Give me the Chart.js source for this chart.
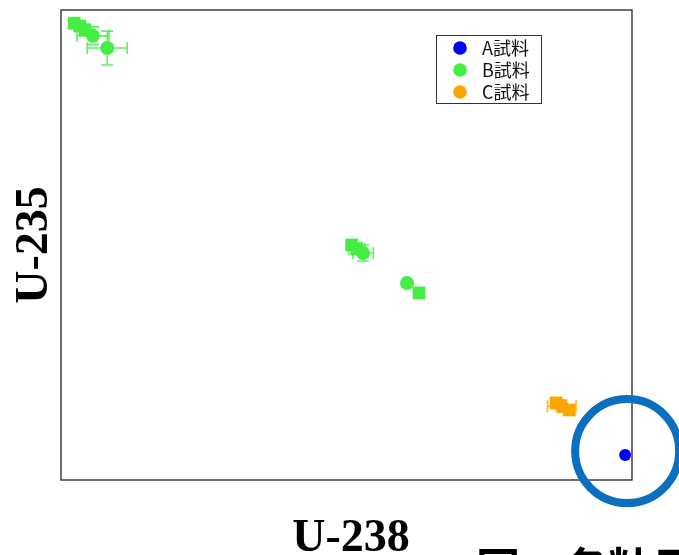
<!DOCTYPE html>
<html>
<head>
<meta charset="utf-8">
<script src="https://cdn.jsdelivr.net/npm/chart.js@4/dist/chart.umd.min.js"></script>
<style>
  html, body { margin: 0; padding: 0; background: #fff; }
  #wrap { width: 679px; height: 555px; position: relative; }
</style>
</head>
<body>
<div id="wrap"><canvas id="c" width="679" height="555"></canvas></div>
<script>
// Isotope ratio plot: U-238 (x) vs U-235 (y), relative units
const seriesNames = ['A試料', 'B試料', 'C試料'];
const seriesColors = ['#0000ff', '#44ee44', '#ffa500'];

// A sample
const aX = [98.8];
const aY = [5.3];
const aXErr = [0];
const aYErr = [0];
const aStyle = ['circle'];

// B sample
const bX = [2.3, 3.3, 4.2, 5.6, 8.1, 50.9, 51.8, 52.9, 60.6, 62.7];
const bY = [97.2, 96.6, 95.8, 94.5, 91.9, 50.0, 49.2, 48.3, 41.9, 39.8];
const bXErr = [0, 0, 0, 2.8, 3.5, 0, 1.4, 1.8, 0, 0];
const bYErr = [0, 0, 0, 1.9, 3.6, 0, 1.2, 1.7, 0, 0];
const bStyle = ['rect', 'rect', 'rect', 'circle', 'circle', 'rect', 'rect', 'circle', 'circle', 'rect'];

// C sample
const cX = [86.7, 87.7, 89.0];
const cY = [16.4, 15.7, 14.9];
const cXErr = [0, 2.5, 0];
const cYErr = [0, 1.3, 0];
const cStyle = ['rect', 'circle', 'rect'];

function points(xs, ys, xe, ye) {
  return xs.map((x, i) => ({ x: x, y: ys[i], xe: xe[i], ye: ye[i] }));
}
function radii(styles, circleR, rectR) {
  return styles.map(s => s === 'rect' ? rectR : circleR);
}

const errorBars = {
  id: 'errorBars',
  beforeDatasetsDraw(chart) {
    const ctx = chart.ctx;
    const xs = chart.scales.x, ys = chart.scales.y;
    chart.data.datasets.forEach(ds => {
      ctx.save();
      ctx.strokeStyle = ds.backgroundColor;
      ctx.globalAlpha = 0.85;
      ctx.lineWidth = 1.6;
      ds.data.forEach(p => {
        const px = xs.getPixelForValue(p.x), py = ys.getPixelForValue(p.y);
        if (p.xe) {
          const l = xs.getPixelForValue(p.x - p.xe), r = xs.getPixelForValue(p.x + p.xe);
          ctx.beginPath();
          ctx.moveTo(l, py); ctx.lineTo(r, py);
          ctx.moveTo(l, py - 6); ctx.lineTo(l, py + 6);
          ctx.moveTo(r, py - 6); ctx.lineTo(r, py + 6);
          ctx.stroke();
        }
        if (p.ye) {
          const t = ys.getPixelForValue(p.y + p.ye), b = ys.getPixelForValue(p.y - p.ye);
          ctx.beginPath();
          ctx.moveTo(px, t); ctx.lineTo(px, b);
          ctx.moveTo(px - 6, t); ctx.lineTo(px + 6, t);
          ctx.moveTo(px - 6, b); ctx.lineTo(px + 6, b);
          ctx.stroke();
        }
      });
      ctx.restore();
    });
  }
};

const decorations = {
  id: 'decorations',
  beforeDatasetsDraw(chart) {
    const ctx = chart.ctx, a = chart.chartArea;
    ctx.save();
    ctx.strokeStyle = '#222';
    ctx.lineWidth = 1.3;
    ctx.strokeRect(a.left, a.top, a.right - a.left, a.bottom - a.top);
    ctx.restore();
  },
  afterDraw(chart) {
    const ctx = chart.ctx;
    ctx.save();
    // legend
    const lx = 436, ly = 35, lw = 105, lh = 68;
    ctx.fillStyle = '#fff';
    ctx.fillRect(lx, ly, lw, lh);
    ctx.strokeStyle = '#333';
    ctx.lineWidth = 1;
    ctx.strokeRect(lx + 0.5, ly + 0.5, lw, lh);
    ctx.font = '18px "Noto Sans CJK JP", "DejaVu Sans", sans-serif';
    ctx.textBaseline = 'middle';
    seriesNames.forEach((n, i) => {
      const y = ly + 13 + i * 22;
      ctx.fillStyle = seriesColors[i];
      ctx.beginPath();
      ctx.arc(lx + 24, y, 6.8, 0, Math.PI * 2);
      ctx.fill();
      ctx.fillStyle = '#111';
      ctx.fillText(n, lx + 46, y);
    });

    // axis titles
    ctx.fillStyle = '#000';
    ctx.font = 'bold 46px "Liberation Serif", "Times New Roman", serif';
    ctx.textAlign = 'center';
    ctx.textBaseline = 'alphabetic';
    ctx.fillText('U-238', 351, 551);
    ctx.save();
    ctx.translate(47, 245);
    ctx.rotate(-Math.PI / 2);
    ctx.fillText('U-235', 0, 0);
    ctx.restore();

    // caption (runs past the bottom edge)
    ctx.textAlign = 'left';
    ctx.font = 'bold 44px "Noto Sans CJK JP", sans-serif';
    ctx.fillText('図　各粒子の同位体比', 476, 585);

    // ring around the A sample
    const ds = chart.data.datasets[0].data[0];
    const cx = chart.scales.x.getPixelForValue(ds.x) + 2;
    const cy = chart.scales.y.getPixelForValue(ds.y) - 4;
    ctx.strokeStyle = '#0a6fc0';
    ctx.lineWidth = 8;
    ctx.beginPath();
    ctx.arc(cx, cy, 52, 0, Math.PI * 2);
    ctx.stroke();
    ctx.restore();
  }
};

new Chart(document.getElementById('c'), {
  type: 'scatter',
  data: {
    datasets: [
      { label: seriesNames[0], data: points(aX, aY, aXErr, aYErr), backgroundColor: seriesColors[0], borderColor: seriesColors[0], pointStyle: aStyle, pointRadius: radii(aStyle, 6, 9), borderWidth: 0 },
      { label: seriesNames[1], data: points(bX, bY, bXErr, bYErr), backgroundColor: seriesColors[1], borderColor: seriesColors[1], pointStyle: bStyle, pointRadius: radii(bStyle, 7, 9), borderWidth: 0 },
      { label: seriesNames[2], data: points(cX, cY, cXErr, cYErr), backgroundColor: seriesColors[2], borderColor: seriesColors[2], pointStyle: cStyle, pointRadius: radii(cStyle, 7, 9), borderWidth: 0 }
    ]
  },
  options: {
    responsive: false,
    animation: false,
    layout: { padding: { left: 61, right: 47, top: 10, bottom: 75 } },
    scales: {
      x: { display: false, min: 0, max: 100 },
      y: { display: false, min: 0, max: 100 }
    },
    plugins: { legend: { display: false }, tooltip: { enabled: false } }
  },
  plugins: [errorBars, decorations]
});
</script>
</body>
</html>
